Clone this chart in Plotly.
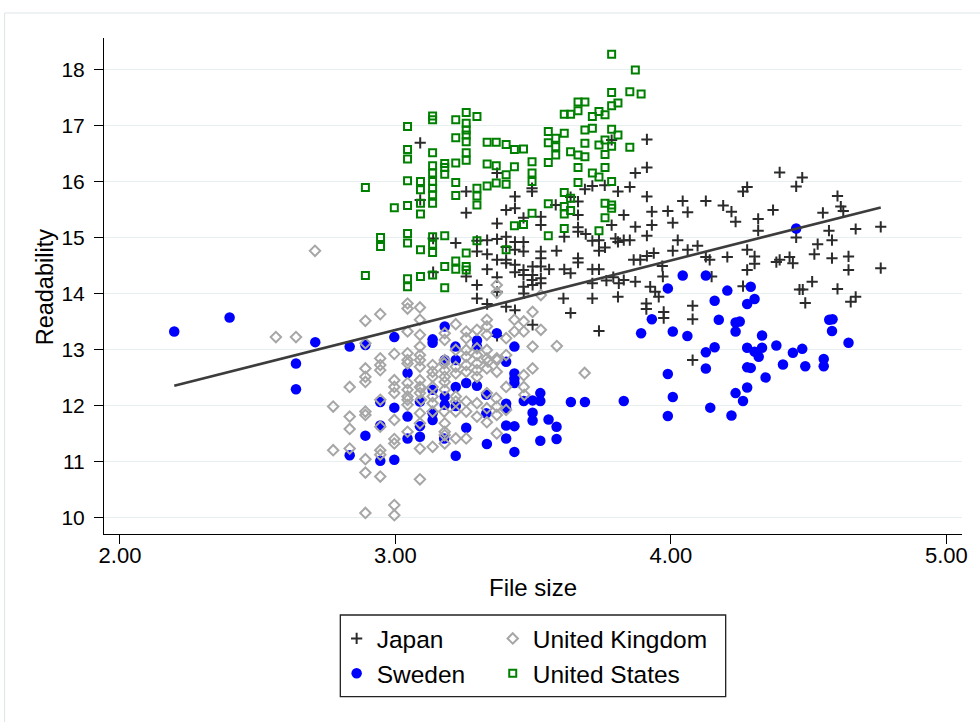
import plotly.graph_objects as go

# ---------------- data ----------------
japan_x = [3.090, 3.090, 3.137, 3.137, 3.219, 3.257, 3.257, 3.257, 3.296, 3.296, 3.296, 3.296,
           3.333, 3.333, 3.333, 3.333, 3.369, 3.369, 3.369, 3.369, 3.369, 3.369, 3.369,
           3.402, 3.402, 3.402, 3.402, 3.402, 3.402, 3.434, 3.434, 3.434, 3.434, 3.434, 3.434,
           3.465, 3.465, 3.465, 3.465, 3.465, 3.466, 3.496, 3.496, 3.498, 3.498, 3.498, 3.498,
           3.528, 3.528, 3.528, 3.528, 3.528, 3.528, 3.528, 3.558, 3.582, 3.585, 3.613, 3.613,
           3.610, 3.636, 3.636, 3.663, 3.663, 3.663, 3.663, 3.691, 3.663, 3.663, 3.688, 3.715,
           3.715, 3.715, 3.715, 3.715, 3.739, 3.739, 3.739, 3.739, 3.760, 3.761, 3.766, 3.785,
           3.785, 3.791, 3.799, 3.808, 3.808, 3.808, 3.811, 3.829, 3.829, 3.829, 3.851, 3.851,
           3.865, 3.871, 3.871, 3.871, 3.889, 3.913, 3.913, 3.913, 3.913, 3.913, 3.911, 3.911,
           3.925, 3.931, 3.931, 3.938, 3.943, 3.956, 3.969, 3.971, 3.974, 3.974, 3.989, 4.007,
           4.007, 4.025, 4.043, 4.061, 4.061, 4.079, 4.079, 4.079, 4.097, 4.127, 4.127, 4.141,
           4.148, 4.190, 4.205, 4.220, 4.235, 4.262, 4.277, 4.277, 4.277, 4.262, 4.304, 4.304,
           4.317, 4.317, 4.371, 4.383, 4.395, 4.395, 4.431, 4.443, 4.455, 4.477, 4.455, 4.467,
           4.479, 4.488, 4.513, 4.521, 4.533, 4.552, 4.574, 4.585, 4.585, 4.605, 4.617, 4.626,
           4.605, 4.645, 4.645, 4.653, 4.671, 4.671, 4.762, 4.762, 3.465, 3.496, 3.434, 3.636]
japan_y = [16.70, 15.68, 14.99, 14.39, 14.91, 15.83, 15.45, 14.31, 14.95, 14.76, 14.16, 13.92,
           14.96, 14.71, 14.44, 13.82, 16.16, 15.26, 14.98, 14.61, 14.30, 14.04, 13.25,
           15.50, 15.02, 14.84, 14.61, 14.55, 13.77, 15.74, 15.53, 14.93, 14.79, 14.52, 13.71,
           15.36, 14.93, 14.76, 14.34, 14.13, 14.01, 15.89, 15.83, 14.49, 14.34, 14.16, 13.45,
           15.38, 15.23, 14.76, 14.64, 14.49, 14.28, 14.19, 14.44, 15.59, 14.77, 15.02, 14.44,
           13.92, 14.37, 13.66, 15.65, 15.41, 15.19, 15.11, 15.07, 14.64, 14.56, 15.87, 15.93,
           14.95, 14.44, 14.19, 13.92, 14.96, 14.77, 14.44, 13.34, 15.94, 14.83, 14.24, 16.75,
           15.23, 14.30, 14.99, 15.83, 14.93, 13.95, 14.19, 15.41, 14.96, 14.25, 15.91, 14.96,
           14.61, 16.16, 15.20, 14.22, 14.61, 16.76, 16.26, 15.74, 15.04, 14.68, 13.83, 13.73,
           14.13, 15.47, 15.23, 14.73, 14.04, 13.95, 14.50, 14.31, 13.68, 13.57, 15.48, 15.27,
           14.77, 14.96, 15.66, 15.46, 14.79, 13.79, 13.55, 12.82, 14.86, 15.66, 14.66, 14.61,
           14.31, 15.58, 14.66, 15.47, 15.29, 15.83, 15.91, 14.79, 14.43, 14.14, 14.67, 14.54,
           15.34, 15.13, 15.50, 14.57, 14.61, 16.17, 14.66, 14.55, 15.92, 16.08, 15.01, 14.08,
           14.08, 13.84, 14.22, 14.71, 14.89, 15.45, 15.13, 14.96, 14.64, 15.75, 15.56, 15.48,
           14.09, 14.67, 14.43, 13.86, 13.95, 15.16, 15.20, 14.46, 14.43, 14.25, 14.39, 15.73]

sweden_x = [2.197, 2.398, 2.709, 2.639, 2.639, 2.834, 2.891, 2.996, 3.179, 3.135, 3.135, 3.218,
            3.296, 3.296, 3.368, 3.432, 3.402, 3.432, 3.432, 3.432, 3.044, 3.179, 3.219, 3.257,
            3.296, 3.219, 3.135, 3.179, 3.089, 2.996, 3.044, 3.135, 3.135, 3.089, 3.179, 3.219,
            3.330, 3.402, 3.402, 3.402, 3.432, 3.402, 3.257, 3.089, 3.044, 2.891, 2.945, 2.945,
            2.834, 2.996, 3.219, 3.332, 3.432, 3.466, 3.498, 3.526, 3.526, 3.498, 3.498, 3.556,
            3.585, 3.585, 3.526, 3.637, 3.688, 3.829, 3.177, 3.330, 2.945, 4.043, 4.127, 3.989,
            4.205, 4.290, 4.304, 4.277, 4.159, 3.931, 3.892, 4.007, 4.060, 4.174, 4.235, 4.250,
            4.235, 4.331, 4.159, 4.127, 4.127, 4.277, 4.304, 4.319, 4.331, 4.277, 4.290, 4.344,
            4.383, 4.443, 4.477, 4.407, 4.488, 4.555, 4.555, 4.575, 4.587, 4.585, 4.645, 4.455,
            3.989, 4.007, 3.989, 4.143, 4.235, 4.277, 4.262, 4.220]
sweden_y = [13.33, 13.58, 13.14, 12.76, 12.30, 13.06, 13.09, 13.23, 13.42, 13.19, 13.13, 13.06,
            13.17, 13.06, 13.30, 13.06, 12.79, 12.58, 12.49, 12.41, 12.59, 12.82, 12.82, 12.41,
            12.36, 12.34, 12.29, 12.17, 12.08, 11.97, 11.81, 11.87, 11.75, 11.64, 12.02, 12.00,
            11.87, 12.04, 11.96, 11.65, 11.64, 11.42, 11.61, 11.45, 11.42, 11.47, 11.65, 11.02,
            11.12, 11.04, 11.11, 11.32, 11.18, 12.09, 12.10, 12.23, 12.09, 11.88, 11.74, 11.76,
            11.63, 11.41, 11.38, 12.07, 12.07, 12.09, 11.42, 12.20, 12.07, 14.33, 14.33, 14.10,
            14.06, 14.13, 13.91, 13.82, 13.88, 13.55, 13.30, 13.33, 13.25, 13.54, 13.49, 13.51,
            13.33, 13.26, 13.05, 12.96, 12.67, 13.04, 12.97, 12.88, 13.04, 12.69, 12.68, 12.51,
            13.08, 12.95, 13.02, 12.74, 12.71, 12.84, 12.71, 13.54, 13.55, 13.34, 13.13, 15.17,
            12.57, 12.16, 11.82, 11.97, 12.23, 12.33, 12.09, 11.83]

uk_x = [2.708, 2.566, 2.639, 2.774, 2.774, 2.834, 2.834, 2.834, 2.834, 2.891, 2.945, 2.891,
        2.891, 2.891, 2.891, 2.891, 2.891, 2.891, 2.945, 2.891, 2.996, 2.996, 2.945, 2.945,
        2.945, 2.945, 2.945, 2.945, 2.945, 2.996, 2.996, 2.996, 2.996, 2.996, 2.996, 2.996,
        3.044, 3.044, 3.089, 3.044, 3.044, 3.044, 3.044, 3.044, 3.044, 3.044, 3.044,
        3.089, 3.089, 3.089, 3.089, 3.089, 3.089, 3.089, 3.089, 3.089, 3.089, 3.089, 3.089, 3.089,
        3.135, 3.135, 3.135, 3.135, 3.135, 3.135,
        3.179, 3.179, 3.179, 3.179, 3.179, 3.179, 3.179, 3.179,
        3.219, 3.219, 3.219, 3.219, 3.219, 3.219, 3.219, 3.219,
        3.257, 3.257, 3.257, 3.257, 3.257, 3.257, 3.257, 3.257, 3.257,
        3.296, 3.296, 3.296, 3.296, 3.296, 3.296, 3.296, 3.296,
        3.332, 3.332, 3.332, 3.332, 3.332, 3.332, 3.332, 3.332, 3.332,
        3.368, 3.368, 3.368, 3.368, 3.368, 3.368, 3.368,
        3.402, 3.402, 3.402, 3.402, 3.432, 3.432, 3.466, 3.466, 3.466, 3.466,
        3.498, 3.498, 3.498, 3.528, 3.528, 3.586, 3.687,
        2.891, 3.093, 3.093, 3.044, 3.044, 3.135, 3.135, 3.179, 3.179, 3.179, 3.366, 3.177,
        3.336, 3.177, 3.369, 3.468]
uk_y = [14.77, 13.23, 13.23, 11.99, 11.21, 12.34, 11.81, 11.59, 11.24, 13.52, 13.64, 12.67,
        12.52, 12.43, 11.90, 11.84, 11.05, 10.81, 10.74, 10.09, 10.23, 10.05, 12.85, 12.73,
        12.64, 12.11, 11.63, 11.21, 11.13, 12.93, 12.46, 12.34, 12.23, 11.75, 11.41, 11.33,
        13.83, 13.74, 13.76, 13.33, 12.94, 12.82, 12.41, 12.29, 12.17, 12.02, 11.54,
        13.54, 13.27, 13.06, 12.91, 12.82, 12.70, 12.46, 12.34, 12.23, 11.87, 11.69, 11.24, 10.69,
        12.73, 12.61, 12.52, 12.05, 11.90, 11.27,
        13.30, 13.18, 12.82, 12.64, 12.52, 11.69, 11.54, 11.33,
        13.46, 13.00, 12.70, 12.58, 12.17, 12.08, 11.90, 11.42,
        13.33, 13.21, 13.00, 12.88, 12.73, 12.61, 12.08, 11.90, 11.42,
        13.36, 13.03, 12.91, 12.76, 12.64, 12.52, 12.05, 11.81,
        13.54, 13.42, 13.27, 13.00, 12.85, 12.67, 12.23, 11.96, 11.71,
        14.16, 14.02, 12.85, 12.61, 11.99, 11.84, 11.51,
        13.21, 12.91, 12.34, 11.93, 13.54, 13.33, 13.51, 13.33, 12.55, 12.34,
        13.68, 13.06, 12.67, 13.98, 13.36, 13.07, 12.59,
        13.12, 12.32, 12.11, 12.76, 12.11, 12.34, 12.17, 12.43, 12.29, 11.48, 12.14, 11.90,
        12.79, 12.76, 12.82, 12.20]

us_x = [2.891, 3.044, 3.044, 3.044, 3.044, 3.044, 2.996, 3.044, 3.044, 2.946, 2.946, 2.891,
        3.044, 3.044, 3.091, 3.091, 3.091, 3.091, 3.135, 3.135, 3.135, 3.135, 3.135, 3.135,
        3.135, 3.135, 3.135, 3.135, 3.135, 3.135, 3.091, 3.091, 3.135, 3.179, 3.179, 3.179,
        3.179, 3.179, 3.179, 3.219, 3.219, 3.219, 3.219, 3.219, 3.219, 3.219, 3.257, 3.257,
        3.257, 3.257, 3.257, 3.257, 3.257, 3.296, 3.296, 3.296, 3.296, 3.257, 3.257, 3.257,
        3.296, 3.333, 3.366, 3.402, 3.432, 3.333, 3.366, 3.333, 3.366, 3.402, 3.402, 3.432,
        3.432, 3.402, 3.785, 3.871, 3.785, 3.851, 3.892, 3.663, 3.688, 3.613, 3.636, 3.663,
        3.715, 3.739, 3.761, 3.785, 3.808, 3.555, 3.582, 3.613, 3.555, 3.582, 3.582, 3.688,
        3.715, 3.785, 3.808, 3.688, 3.739, 3.761, 3.785, 3.851, 3.636, 3.663, 3.688, 3.761,
        3.555, 3.663, 3.761, 3.715, 3.739, 3.785, 3.663, 3.465, 3.496, 3.496, 3.496, 3.613,
        3.636, 3.636, 3.613, 3.613, 3.613, 3.555, 3.496, 3.465, 3.555, 3.761, 3.785, 3.785,
        3.761, 3.739]
us_y = [15.90, 16.99, 16.58, 16.41, 16.02, 15.58, 15.54, 15.08, 14.91, 15.01, 14.85, 14.33,
        14.27, 14.13, 16.01, 15.86, 15.62, 15.43, 17.18, 17.11, 16.52, 16.29, 16.16, 16.01,
        15.89, 15.77, 15.62, 15.02, 14.89, 14.74, 14.79, 14.31, 14.34, 16.33, 16.26, 16.14,
        15.04, 14.49, 14.11, 17.11, 16.79, 16.34, 15.99, 15.76, 14.59, 14.44, 17.24, 17.05,
        16.93, 16.84, 16.72, 16.52, 16.39, 17.17, 15.89, 15.75, 15.59, 14.73, 14.49, 14.43,
        14.95, 16.71, 16.71, 16.67, 16.58, 16.32, 16.29, 15.93, 15.98, 16.13, 15.96, 16.27,
        15.22, 14.79, 18.28, 18.00, 17.60, 17.61, 17.57, 17.43, 17.43, 17.21, 17.21, 17.27,
        17.17, 17.26, 17.20, 17.36, 17.41, 16.90, 16.78, 16.87, 16.70, 16.63, 16.48, 16.93,
        16.96, 16.94, 16.84, 16.69, 16.66, 16.75, 16.64, 16.62, 16.54, 16.48, 16.45, 16.49,
        16.35, 16.26, 16.26, 16.16, 16.09, 16.01, 15.99, 16.59, 16.36, 16.16, 16.01, 15.81,
        15.71, 15.49, 15.56, 15.43, 15.17, 15.61, 15.44, 15.24, 15.04, 15.62, 15.59, 15.53,
        15.36, 15.13]

# linear fit
fit_intercept = 9.631
fit_slope = 1.242

x_ticks = [2, 3, 4, 5]
x_tick_labels = ["2.00", "3.00", "4.00", "5.00"]
y_ticks = [10, 11, 12, 13, 14, 15, 16, 17, 18]

FONT = "Liberation Sans, Arial, Helvetica, sans-serif"

all_x = japan_x + sweden_x + uk_x + us_x
fx = [min(all_x), max(all_x)]
fy = [fit_intercept + fit_slope * v for v in fx]

fig = go.Figure()
fig.add_trace(go.Scatter(
    x=japan_x, y=japan_y, mode="markers", name="Japan", legend="legend", legendrank=1,
    marker=dict(symbol="cross-thin", size=8, line=dict(width=2, color="#2b2b2b"), color="#2b2b2b")))
fig.add_trace(go.Scatter(
    x=sweden_x, y=sweden_y, mode="markers", name="Sweden", legend="legend", legendrank=2,
    marker=dict(symbol="circle", size=10.5, color="#0000ff", line=dict(width=0))))
fig.add_trace(go.Scatter(
    x=uk_x, y=uk_y, mode="markers", name="United Kingdom", legend="legend2", legendrank=3,
    marker=dict(symbol="diamond-open", size=8, color="#a6a6a6", line=dict(width=2, color="#a6a6a6"))))
fig.add_trace(go.Scatter(
    x=us_x, y=us_y, mode="markers", name="United States", legend="legend2", legendrank=4,
    marker=dict(symbol="square-open", size=7, color="#008000", line=dict(width=2, color="#008000"))))
fig.add_trace(go.Scatter(
    x=fx, y=fy, mode="lines", showlegend=False, hoverinfo="skip",
    line=dict(color="#3c3c3c", width=2.6)))

L, R, T, B = 104, 13, 38, 188
W, H = 980, 722
pw, ph = W - L - R, H - T - B


def px2x(px):
    return (px - L) / pw


def py2y(py):
    return (H - B - py) / ph


fig.update_layout(
    width=W, height=H, autosize=False,
    margin=dict(l=L, r=R, t=T, b=B),
    paper_bgcolor="white", plot_bgcolor="white",
    font=dict(family=FONT, color="black", size=22),
    xaxis=dict(range=[1.942, 5.057], tickvals=x_ticks, ticktext=x_tick_labels,
               showgrid=False, zeroline=False, showline=True, linecolor="black", linewidth=1,
               ticks="outside", ticklen=9, tickwidth=1, tickcolor="black",
               tickfont=dict(size=22), ticklabelstandoff=-7,
               title=dict(text="File size", font=dict(size=24), standoff=11)),
    yaxis=dict(range=[9.714, 18.571], tickvals=y_ticks,
               showgrid=True, gridcolor="#e7eff1", gridwidth=1.3, zeroline=False,
               showline=True, linecolor="black", linewidth=1,
               ticks="outside", ticklen=9, tickwidth=1, tickcolor="black",
               tickfont=dict(size=21), ticklabelstandoff=5),
    annotations=[dict(text="Readability", textangle=-90, xref="paper", yref="paper",
                      x=px2x(45), y=py2y(287), xanchor="center", yanchor="middle",
                      showarrow=False, font=dict(size=23.5, family=FONT, color="black"))],
    legend=dict(x=px2x(338), y=py2y(616), xanchor="left", yanchor="top",
                bgcolor="rgba(0,0,0,0)", borderwidth=0, font=dict(size=24.5),
                itemsizing="trace", tracegroupgap=0),
    legend2=dict(x=px2x(495), y=py2y(616), xanchor="left", yanchor="top",
                 bgcolor="rgba(0,0,0,0)", borderwidth=0, font=dict(size=24.5),
                 itemsizing="trace", tracegroupgap=0),
    shapes=[
        dict(type="rect", xref="paper", yref="paper",
             x0=px2x(341.7), x1=px2x(729.3), y0=py2y(696.7), y1=py2y(615),
             line=dict(color="#222222", width=1.3), fillcolor="rgba(0,0,0,0)"),
        dict(type="rect", xref="paper", yref="paper",
             x0=px2x(4), x1=px2x(1000), y0=py2y(760), y1=py2y(13),
             line=dict(color="#dfe5e8", width=1), fillcolor="rgba(0,0,0,0)", layer="below"),
    ],
)

fig.write_html("out.html")
